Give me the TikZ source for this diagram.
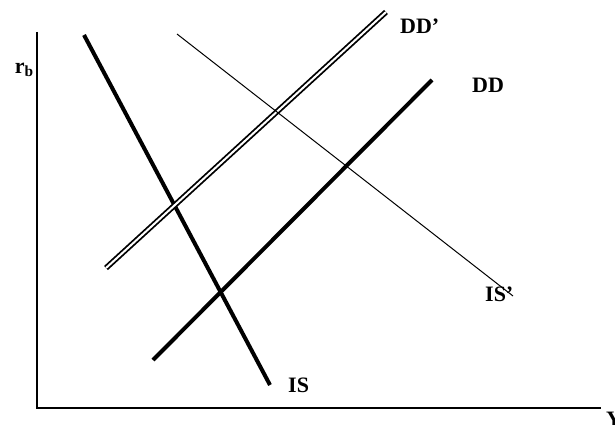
\documentclass[tikz,border=0pt]{standalone}
\usepackage{fontspec}
\setmainfont{Liberation Serif}
\usetikzlibrary{positioning}

\begin{document}
\begin{tikzpicture}[x=1pt,y=-1pt,lbl/.style={font=\fontsize{22}{24}\selectfont\bfseries,inner sep=0pt},ax/.style={line width=1.8pt},heavy/.style={line width=4pt},twin/.style={double,double distance=2pt,line width=1.8pt}]
\useasboundingbox (0,0) rectangle (615,425);
% axes
\coordinate (top) at (37,32); \coordinate (orig) at (37,408); \coordinate (right) at (601,408);
\draw[ax] (top)--(orig)--(right);
\node[lbl,anchor=east] (rb) at (34,70) {r\textsubscript{b}};
\node[lbl,anchor=north west] (yl) at (606,412) {Y};
% curves
\coordinate (is1) at (84,35); \coordinate (is2) at (270,385);
\coordinate (dd1) at (153,360); \coordinate (dd2) at (432,80);
\coordinate (dp1) at (106,268); \coordinate (dp2) at (386,12);
\coordinate (ip1) at (177,34); \coordinate (ip2) at (513,296);
\draw[heavy] (is1)--(is2);
\draw[heavy] (dd1)--(dd2);
\draw[twin] (dp1)--(dp2);
\draw[line width=1pt] (ip1)--(ip2);
\node[lbl,anchor=west] (isl) at (288,385) {IS};
\node[lbl,anchor=west] (ddl) at (472,85) {DD};
\node[lbl,anchor=west] (dpl) at (400,26) {DD’};
\node[lbl,anchor=west] (ipl) at (485,294) {IS’};
\end{tikzpicture}
\end{document}
